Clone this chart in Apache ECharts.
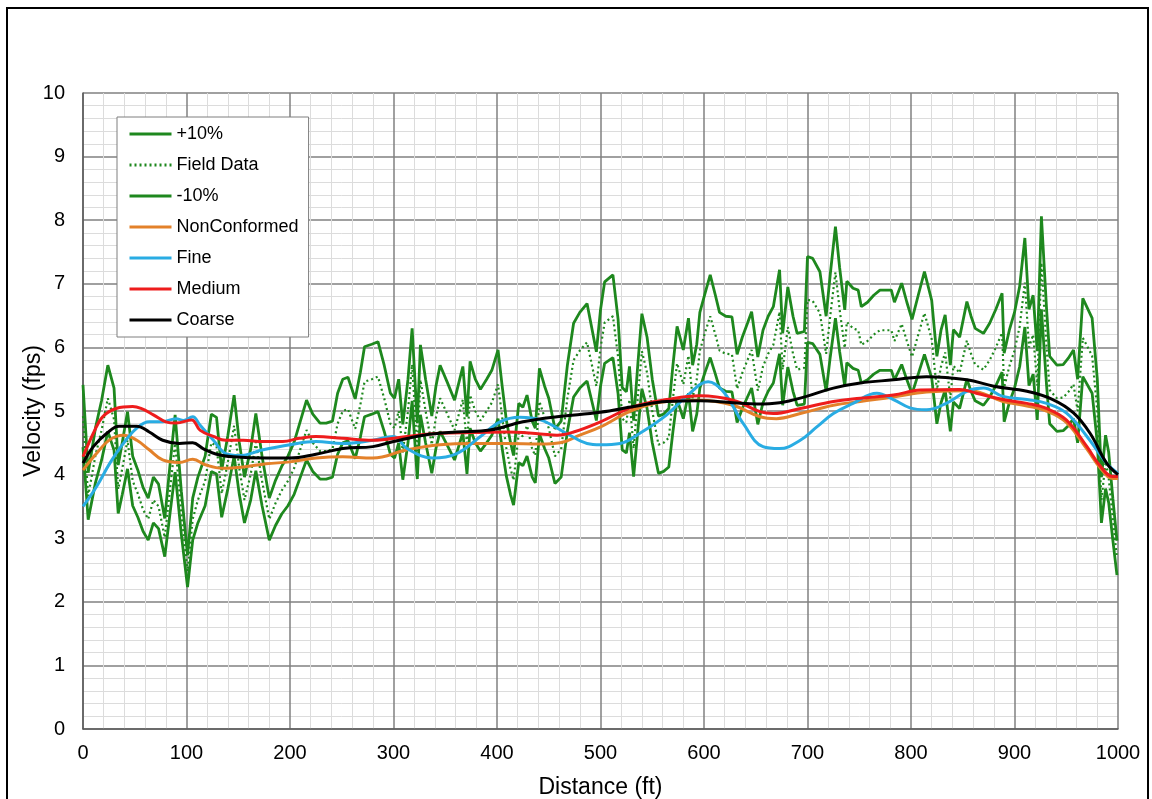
<!DOCTYPE html>
<html>
<head>
<meta charset="utf-8">
<script src="https://cdn.jsdelivr.net/npm/echarts@6/dist/echarts.min.js"></script>
<style>
html,body{margin:0;padding:0;background:#fff;}
#chart{width:1152px;height:799px;}
</style>
</head>
<body>
<div id="chart"></div>
<script>
// ---- Field data (distance ft, velocity fps) ----
const fieldX = [0,5,12,18,24,30,34,38,43,48,53,58,63,68,73,79,84,89,95,101,106,111,118,124,129,134,140,146,151,156,162,167,173,180,186,192,198,204,210,216,222,229,235,241,246,251,256,263,268,272,279,285,291,297,301,305,309,314,318,323,326,331,337,341,345,352,359,364,367,371,374,379,384,390,395,401,405,409,413,416,421,425,429,434,437,441,446,450,456,462,468,474,480,487,492,496,500,504,512,517,521,525,528,532,536,540,545,550,556,561,566,570,574,580,585,589,593,596,601,606,611,615,621,627,632,637,642,646,652,657,662,667,673,676,681,686,690,697,700,705,712,718,722,727,731,736,738,744,749,752,758,764,770,776,781,784,791,796,801,807,813,820,825,829,833,838,841,847,854,858,862,870,876,882,888,890,895,900,905,910,914,918,922,926,931,934,941,947,952,957,961,966,975,980,984,988,991,995,999];
const fieldV = [4.92,3.66,4.3,4.7,5.2,4.87,3.77,4.1,4.54,3.9,3.7,3.45,3.3,3.6,3.5,3.01,3.76,4.49,3.4,2.48,3.3,3.6,3.9,4.5,4.45,3.7,4.2,4.77,4.1,3.6,4.0,4.51,3.9,3.3,3.55,3.75,3.9,4.1,4.4,4.7,4.5,4.37,4.37,4.4,4.8,5.0,5.03,4.72,5.1,5.46,5.5,5.54,5.2,4.8,4.73,5.0,4.35,5.0,5.73,4.37,5.49,5.0,4.47,4.9,5.2,4.95,4.7,5.0,5.18,4.46,5.25,5.0,4.85,5.0,5.13,5.42,4.9,4.42,4.1,3.91,4.65,4.6,4.77,4.4,4.3,5.15,4.9,4.73,4.29,4.4,5.2,5.8,5.95,6.08,5.7,5.39,5.99,6.39,6.49,5.85,4.88,4.82,5.18,4.41,5.2,5.94,5.6,5.0,4.47,4.5,4.58,5.2,5.75,5.42,5.87,5.2,5.5,5.95,6.23,6.49,6.2,5.95,5.9,5.89,5.35,5.6,5.8,5.96,5.32,5.7,5.9,6.04,6.56,5.65,6.32,5.9,5.65,5.68,6.75,6.73,6.54,5.9,6.5,7.18,6.6,5.99,6.4,6.3,6.27,6.04,6.1,6.2,6.27,6.27,6.27,6.1,6.37,6.1,5.85,6.2,6.54,6.13,5.33,5.7,5.92,5.2,5.71,5.6,6.11,5.9,5.73,5.65,5.8,6.0,6.23,5.37,5.7,5.95,6.33,7.02,6.0,6.2,5.4,7.33,6.0,5.33,5.2,5.21,5.3,5.42,5.0,6.15,5.87,5.0,3.6,4.2,3.95,3.3,2.69];
const plus10V = [5.41,4.03,4.73,5.17,5.72,5.36,4.15,4.51,4.99,4.29,4.07,3.80,3.63,3.96,3.85,3.31,4.14,4.94,3.74,2.73,3.63,3.96,4.29,4.95,4.90,4.07,4.62,5.25,4.51,3.96,4.40,4.96,4.29,3.63,3.91,4.13,4.29,4.51,4.84,5.17,4.95,4.81,4.81,4.84,5.28,5.50,5.53,5.19,5.61,6.01,6.05,6.09,5.72,5.28,5.20,5.50,4.79,5.50,6.30,4.81,6.04,5.50,4.92,5.39,5.72,5.45,5.17,5.50,5.70,4.91,5.78,5.50,5.34,5.50,5.64,5.96,5.39,4.86,4.51,4.30,5.12,5.06,5.25,4.84,4.73,5.67,5.39,5.20,4.72,4.84,5.72,6.38,6.55,6.69,6.27,5.93,6.59,7.03,7.14,6.44,5.37,5.30,5.70,4.85,5.72,6.53,6.16,5.50,4.92,4.95,5.04,5.72,6.33,5.96,6.46,5.72,6.05,6.55,6.85,7.14,6.82,6.55,6.49,6.48,5.89,6.16,6.38,6.56,5.85,6.27,6.49,6.64,7.22,6.22,6.95,6.49,6.22,6.25,7.43,7.40,7.19,6.49,7.15,7.90,7.26,6.59,7.04,6.93,6.90,6.64,6.71,6.82,6.90,6.90,6.90,6.71,7.01,6.71,6.44,6.82,7.19,6.74,5.86,6.27,6.51,5.72,6.28,6.16,6.72,6.49,6.30,6.22,6.38,6.60,6.85,5.91,6.27,6.55,6.96,7.72,6.60,6.82,5.94,8.06,6.60,5.86,5.72,5.73,5.83,5.96,5.50,6.77,6.46,5.50,3.96,4.62,4.35,3.63,2.96];
const minus10V = [4.43,3.29,3.87,4.23,4.68,4.38,3.39,3.69,4.09,3.51,3.33,3.11,2.97,3.24,3.15,2.71,3.38,4.04,3.06,2.23,2.97,3.24,3.51,4.05,4.01,3.33,3.78,4.29,3.69,3.24,3.60,4.06,3.51,2.97,3.20,3.38,3.51,3.69,3.96,4.23,4.05,3.93,3.93,3.96,4.32,4.50,4.53,4.25,4.59,4.91,4.95,4.99,4.68,4.32,4.26,4.50,3.92,4.50,5.16,3.93,4.94,4.50,4.02,4.41,4.68,4.46,4.23,4.50,4.66,4.01,4.73,4.50,4.37,4.50,4.62,4.88,4.41,3.98,3.69,3.52,4.19,4.14,4.29,3.96,3.87,4.64,4.41,4.26,3.86,3.96,4.68,5.22,5.36,5.47,5.13,4.85,5.39,5.75,5.84,5.27,4.39,4.34,4.66,3.97,4.68,5.35,5.04,4.50,4.02,4.05,4.12,4.68,5.18,4.88,5.28,4.68,4.95,5.36,5.61,5.84,5.58,5.36,5.31,5.30,4.82,5.04,5.22,5.36,4.79,5.13,5.31,5.44,5.90,5.09,5.69,5.31,5.09,5.11,6.08,6.06,5.89,5.31,5.85,6.46,5.94,5.39,5.76,5.67,5.64,5.44,5.49,5.58,5.64,5.64,5.64,5.49,5.73,5.49,5.27,5.58,5.89,5.52,4.80,5.13,5.33,4.68,5.14,5.04,5.50,5.31,5.16,5.09,5.22,5.40,5.61,4.83,5.13,5.36,5.70,6.32,5.40,5.58,4.86,6.60,5.40,4.80,4.68,4.69,4.77,4.88,4.50,5.54,5.28,4.50,3.24,3.78,3.56,2.97,2.42];

// ---- Model results ----
const nonConfX = [0,13,26,39,52,64,77,93,106,119,135,155,177,200,225,251,280,313,345,377,409,442,461,480,500,532,564,596,628,654,670,693,725,751,783,815,857,889,912,931,950,970,983,995,1000];
const nonConfV = [4.07,4.33,4.55,4.62,4.54,4.39,4.23,4.19,4.24,4.15,4.1,4.12,4.17,4.2,4.26,4.28,4.26,4.39,4.47,4.49,4.49,4.48,4.5,4.62,4.75,5.02,5.15,5.17,5.09,4.91,4.88,4.96,5.09,5.15,5.22,5.3,5.32,5.15,5.08,5.0,4.82,4.4,4.1,3.94,3.94];
const fineX = [0,13,26,39,52,64,77,90,97,106,113,126,138,151,174,200,225,251,280,300,313,338,361,384,403,422,442,467,487,500,519,538,564,583,604,619,638,657,673,693,709,725,744,767,783,799,815,834,854,870,889,912,931,950,970,989,1000];
const fineV = [3.5,3.81,4.18,4.49,4.73,4.83,4.83,4.88,4.85,4.91,4.78,4.54,4.33,4.3,4.39,4.47,4.52,4.49,4.54,4.6,4.41,4.26,4.33,4.6,4.83,4.9,4.86,4.65,4.49,4.47,4.49,4.65,4.94,5.23,5.46,5.3,4.8,4.44,4.41,4.54,4.75,4.96,5.12,5.28,5.18,5.05,5.02,5.12,5.31,5.36,5.23,5.18,5.12,4.97,4.6,4.18,4.02];
const mediumX = [0,10,19,32,48,56,68,80,90,105,113,126,138,155,174,193,209,225,251,280,313,345,377,409,442,458,474,500,532,564,596,628,654,667,693,725,751,783,809,847,863,889,912,931,950,970,983,995,1000];
const mediumV = [4.28,4.65,4.91,5.04,5.07,5.04,4.94,4.83,4.81,4.86,4.7,4.6,4.54,4.54,4.52,4.52,4.57,4.6,4.57,4.54,4.6,4.65,4.66,4.67,4.64,4.62,4.67,4.83,5.07,5.18,5.24,5.17,4.99,4.96,5.04,5.15,5.2,5.25,5.33,5.34,5.28,5.18,5.12,5.04,4.86,4.44,4.13,3.97,3.97];
const coarseX = [0,10,23,35,52,64,77,93,106,116,129,145,177,200,225,251,280,300,329,361,393,425,458,500,532,564,596,628,651,673,699,725,751,783,815,854,880,912,937,957,973,989,1000];
const coarseV = [4.18,4.44,4.65,4.76,4.76,4.67,4.54,4.49,4.5,4.41,4.32,4.28,4.26,4.26,4.32,4.41,4.44,4.52,4.62,4.67,4.7,4.83,4.91,4.98,5.07,5.15,5.16,5.13,5.11,5.13,5.23,5.36,5.44,5.49,5.54,5.49,5.39,5.31,5.18,4.97,4.65,4.18,4.0];

const seriesNames = ['+10%','Field Data','-10%','NonConformed','Fine','Medium','Coarse'];
const xTicks = {min:0, max:1000, step:100};
const yTicks = {min:0, max:10, step:1};

function pairs(xs, ys){ return xs.map((x,i)=>[x, ys[i]]); }

const FONT = "'Liberation Sans', Arial, sans-serif";
const GREEN = '#1e881e';

const chart = echarts.init(document.getElementById('chart'));
chart.setOption({
  animation:false,
  backgroundColor:'#ffffff',
  graphic:[{type:'rect', shape:{x:7,y:8,width:1141,height:830}, style:{fill:'none', stroke:'#000', lineWidth:2}, silent:true, z:-1}],
  grid:{left:83, right:34, top:93, bottom:70, containLabel:false, outerBoundsMode:'none'},
  legend:{
    data:seriesNames, orient:'vertical', left:117, top:117,
    backgroundColor:'#fff', borderColor:'#7f7f7f', borderWidth:1,
    padding:[8,10,8,11], itemWidth:42, itemHeight:14, itemGap:13,
    itemStyle:{opacity:0},
    lineStyle:{width:3},
    textStyle:{fontFamily:FONT, fontSize:18, color:'#000'}
  },
  xAxis:{
    type:'value', min:xTicks.min, max:xTicks.max, interval:xTicks.step,
    name:'Distance (ft)', nameLocation:'middle', nameGap:47, nameMoveOverlap:false,
    nameTextStyle:{fontFamily:FONT, fontSize:23, color:'#000'},
    axisLine:{show:true, onZero:false, lineStyle:{color:'#595959', width:1.5}},
    axisTick:{show:false},
    axisLabel:{fontFamily:FONT, fontSize:20, color:'#000', margin:14, formatter:function(v){return String(v);}},
    splitLine:{show:true, lineStyle:{color:'#808080', width:1.5}},
    minorTick:{show:false, splitNumber:5},
    minorSplitLine:{show:true, lineStyle:{color:'#dcdcdc', width:1}}
  },
  yAxis:{
    type:'value', min:yTicks.min, max:yTicks.max, interval:yTicks.step,
    name:'Velocity (fps)', nameLocation:'middle', nameGap:38, nameRotate:90, nameMoveOverlap:false,
    nameTextStyle:{fontFamily:FONT, fontSize:23, color:'#000'},
    axisLine:{show:true, lineStyle:{color:'#595959', width:1.5}},
    axisTick:{show:false},
    axisLabel:{fontFamily:FONT, fontSize:20, color:'#000', margin:18},
    splitLine:{show:true, lineStyle:{color:'#808080', width:1.5}},
    minorTick:{show:false, splitNumber:5},
    minorSplitLine:{show:true, lineStyle:{color:'#dcdcdc', width:1}}
  },
  series:[
    {name:seriesNames[0], type:'line', data:pairs(fieldX, plus10V), symbol:'none', lineStyle:{color:GREEN, width:2.8}, itemStyle:{color:GREEN}},
    {name:seriesNames[1], type:'line', data:pairs(fieldX, fieldV), symbol:'none', lineStyle:{color:GREEN, width:2.2, type:[2,3]}, itemStyle:{color:GREEN}},
    {name:seriesNames[2], type:'line', data:pairs(fieldX, minus10V), symbol:'none', lineStyle:{color:GREEN, width:2.8}, itemStyle:{color:GREEN}},
    {name:seriesNames[3], type:'line', data:pairs(nonConfX, nonConfV), symbol:'none', smooth:0.4, lineStyle:{color:'#e3812a', width:3}, itemStyle:{color:'#e3812a'}},
    {name:seriesNames[4], type:'line', data:pairs(fineX, fineV), symbol:'none', smooth:0.4, lineStyle:{color:'#29ace3', width:3}, itemStyle:{color:'#29ace3'}},
    {name:seriesNames[5], type:'line', data:pairs(mediumX, mediumV), symbol:'none', smooth:0.4, lineStyle:{color:'#ee1c1c', width:3}, itemStyle:{color:'#ee1c1c'}},
    {name:seriesNames[6], type:'line', data:pairs(coarseX, coarseV), symbol:'none', smooth:0.4, lineStyle:{color:'#000000', width:3}, itemStyle:{color:'#000000'}}
  ]
});
</script>
</body>
</html>
